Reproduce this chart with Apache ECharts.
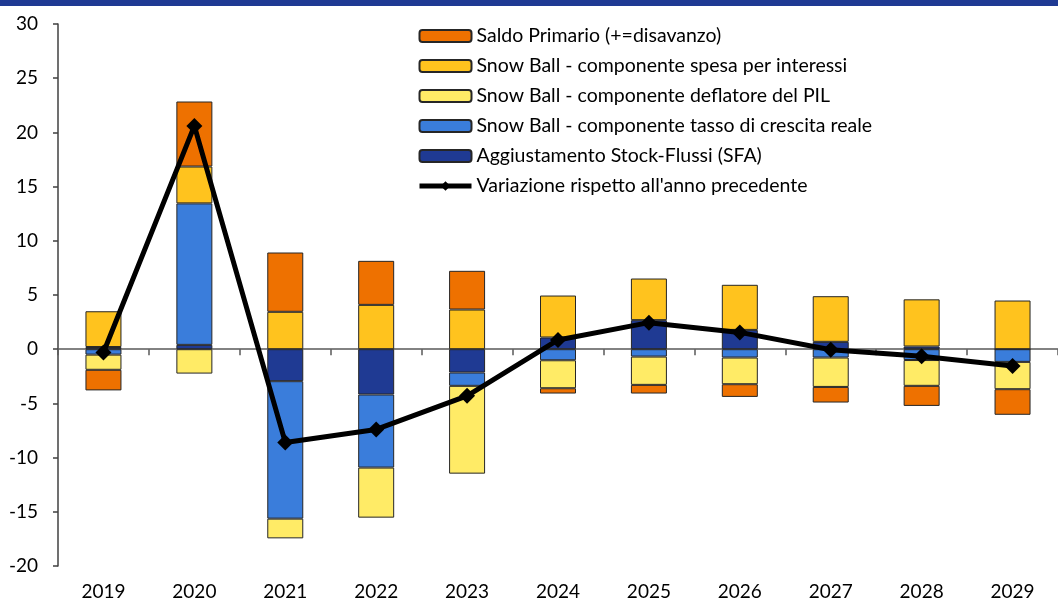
<!DOCTYPE html>
<html>
<head>
<meta charset="utf-8">
<script src="https://cdn.jsdelivr.net/npm/echarts@6/dist/echarts.min.js"></script>
<style>
  html, body { margin: 0; padding: 0; background: #fff; }
  #chart { width: 1058px; height: 601px; }
</style>
</head>
<body>
<div id="chart"></div>
<script>
// anni
const years = ['2019', '2020', '2021', '2022', '2023', '2024', '2025', '2026', '2027', '2028', '2029'];

// componenti (punti percentuali)
const sfa        = [0.2, 0.4, -2.95, -4.18, -2.15, 1.08, 2.68, 1.78, 0.68, 0.25, 0];
const crescita   = [-0.5, 13.05, -12.68, -6.74, -1.23, -1.02, -0.68, -0.77, -0.77, -1.0, -1.17];
const deflatore  = [-1.4, -2.25, -1.82, -4.62, -8.1, -2.58, -2.61, -2.46, -2.71, -2.38, -2.52];
const interessi  = [3.3, 3.4, 3.45, 4.09, 3.66, 3.87, 3.84, 4.16, 4.21, 4.35, 4.49];
const primario   = [-1.9, 6.0, 5.47, 4.06, 3.57, -0.49, -0.8, -1.17, -1.44, -1.85, -2.36];
const variazione = [-0.3, 20.6, -8.6, -7.4, -4.3, 0.85, 2.45, 1.55, -0.05, -0.65, -1.55];

const yTicks = { min: -20, max: 30, step: 5 };

const names = {
  primario: 'Saldo Primario (+=disavanzo)',
  interessi: 'Snow Ball - componente spesa per interessi',
  deflatore: 'Snow Ball - componente deflatore del PIL',
  crescita: 'Snow Ball - componente tasso di crescita reale',
  sfa: 'Aggiustamento Stock-Flussi (SFA)',
  variazione: "Variazione rispetto all'anno precedente"
};

const font = 'Lato, "Noto Sans", sans-serif';

const bar = (name, data, color) => ({
  name: name,
  type: 'bar',
  stack: 'tot',
  barWidth: 36,
  data: data,
  itemStyle: { color: color, borderColor: '#262626', borderWidth: 1 }
});

const chart = echarts.init(document.getElementById('chart'));

chart.setOption({
  animation: false,
  textStyle: { fontFamily: font, color: '#000' },
  graphic: [{
    type: 'rect',
    shape: { x: 0, y: 0, width: 1058, height: 6 },
    style: { fill: '#1F3A93' }
  }],
  legend: {
    orient: 'vertical',
    left: 412,
    top: 21,
    itemWidth: 52,
    itemHeight: 12,
    itemGap: 10,
    textStyle: { fontFamily: font, fontSize: 19.5, color: '#000' },
    data: [
      names.primario, names.interessi, names.deflatore, names.crescita, names.sfa,
      { name: names.variazione, lineStyle: { width: 5, color: '#000' } }
    ]
  },
  grid: { left: 58, top: 24, width: 1009, bottom: 34 },
  xAxis: [{
    type: 'category',
    data: years,
    axisLine: { onZero: true, lineStyle: { color: '#595959', width: 1.5 } },
    axisTick: { show: true, length: 6, lineStyle: { color: '#595959', width: 1.5 } },
    axisLabel: { show: false }
  }, {
    type: 'category',
    position: 'bottom',
    data: years,
    axisLine: { show: false, onZero: false },
    axisTick: { show: false },
    axisLabel: { margin: 16, fontSize: 19, color: '#000', fontFamily: font }
  }],
  yAxis: {
    type: 'value',
    min: yTicks.min,
    max: yTicks.max,
    interval: yTicks.step,
    splitLine: { show: false },
    axisLine: { show: true, lineStyle: { color: '#404040', width: 1.5 } },
    axisTick: { show: true, length: 5, lineStyle: { color: '#404040', width: 1.5 } },
    axisLabel: { margin: 20, fontSize: 19, color: '#000', fontFamily: font }
  },
  series: [
    bar(names.sfa, sfa, '#1F3A93'),
    bar(names.crescita, crescita, '#3A7DDB'),
    bar(names.deflatore, deflatore, '#FFEB66'),
    bar(names.interessi, interessi, '#FFC31E'),
    bar(names.primario, primario, '#EE7100'),
    {
      name: names.variazione,
      type: 'line',
      data: variazione,
      symbol: 'diamond',
      symbolSize: 16,
      z: 10,
      lineStyle: { color: '#000', width: 5 },
      itemStyle: { color: '#000' }
    }
  ]
});
</script>
</body>
</html>
